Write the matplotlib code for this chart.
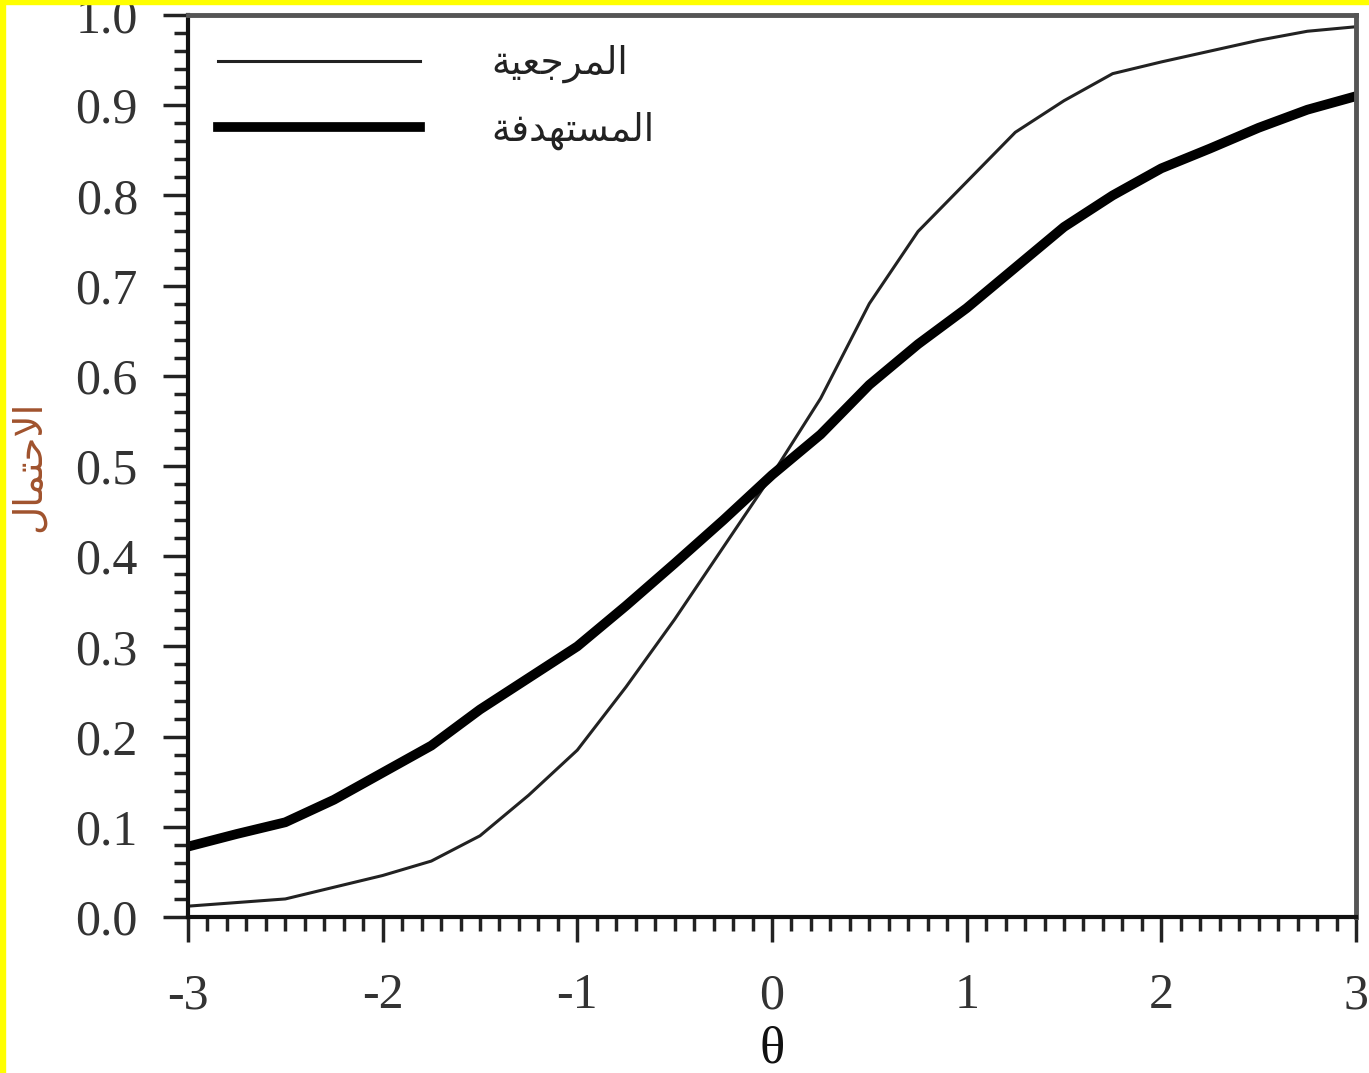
import matplotlib
matplotlib.use("Agg")
import matplotlib.pyplot as plt
from matplotlib.patches import Rectangle
from matplotlib.ticker import MultipleLocator, FormatStrFormatter
import numpy as np

plt.rcParams['font.family'] = ['Liberation Serif', 'DejaVu Sans']
plt.rcParams['axes.unicode_minus'] = False

# theta values and the two curves
theta = [-3, -2.75, -2.5, -2.25, -2, -1.75, -1.5, -1.25, -1, -0.75, -0.5, -0.25,
         0, 0.25, 0.5, 0.75, 1, 1.25, 1.5, 1.75, 2, 2.25, 2.5, 2.75, 3]
p_ref = [0.012, 0.016, 0.020, 0.033, 0.046, 0.062, 0.090, 0.135, 0.185, 0.255,
         0.330, 0.410, 0.490, 0.575, 0.680, 0.760, 0.815, 0.870, 0.905, 0.935,
         0.948, 0.960, 0.972, 0.982, 0.987]
p_target = [0.078, 0.092, 0.105, 0.130, 0.160, 0.190, 0.230, 0.265, 0.300, 0.345,
            0.392, 0.440, 0.490, 0.535, 0.590, 0.635, 0.675, 0.720, 0.765, 0.800,
            0.830, 0.852, 0.875, 0.895, 0.910]

# Arabic labels, written in presentation forms so they show joined and right-to-left
lbl_ref = "\uFE94\uFEF4\uFECC\uFE9F\uFEAE\uFEE4\uFEDF\uFE8D"        # المرجعية
lbl_target = "\uFE94\uFED3\uFEAA\uFEEC\uFE98\uFEB4\uFEE4\uFEDF\uFE8D"  # المستهدفة
lbl_y = "\uFEDD\uFE8E\uFEE4\uFE98\uFEA3\uFEFB\uFE8D"                # الاحتمال

fig = plt.figure(figsize=(13.69, 10.73), dpi=100)
ax = fig.add_axes([0.1373, 0.1454, 0.8532, 0.8406])

ax.plot(theta, p_ref, color='#222222', lw=2.2, label=lbl_ref)
ax.plot(theta, p_target, color='black', lw=7.0, label=lbl_target)

ax.set_xlim(-3, 3)
ax.set_ylim(0, 1)
ax.xaxis.set_major_locator(MultipleLocator(1))
ax.xaxis.set_minor_locator(MultipleLocator(0.1))
ax.yaxis.set_major_locator(MultipleLocator(0.1))
ax.yaxis.set_minor_locator(MultipleLocator(0.02))
ax.yaxis.set_major_formatter(FormatStrFormatter('%.1f'))

ax.tick_params(which='major', direction='out', length=18, width=2.5, color='#222222',
               labelsize=36, labelcolor='#333333')
ax.tick_params(which='minor', direction='out', length=10, width=2.5, color='#222222')
ax.tick_params(axis='y', which='major', pad=18)
ax.tick_params(axis='x', which='major', pad=22)

for s in ['left', 'bottom']:
    ax.spines[s].set_linewidth(3)
    ax.spines[s].set_color('#111111')
for s in ['top', 'right']:
    ax.spines[s].set_linewidth(3.5)
    ax.spines[s].set_color('#555555')

ax.set_xlabel('θ', fontsize=38, color='#111111', labelpad=5)
ax.set_ylabel(lbl_y, fontsize=28, color='#a0522d', labelpad=20, family='DejaVu Sans')

leg = ax.legend(loc='upper left', frameon=False, fontsize=27, handlelength=5.4,
                handletextpad=1.9, labelspacing=0.75, borderaxespad=0.4)
for t in leg.get_texts():
    t.set_color('#222222')
    t.set_family('DejaVu Sans')

# yellow edge of the original screenshot
fig.patches.append(Rectangle((0, 0), 5 / 1369, 1, transform=fig.transFigure,
                             color='#ffff00', zorder=10))
fig.patches.append(Rectangle((0, 1 - 4 / 1073), 1, 4 / 1073, transform=fig.transFigure,
                             color='#ffff00', zorder=10))

fig.savefig('out.png', dpi=100)
